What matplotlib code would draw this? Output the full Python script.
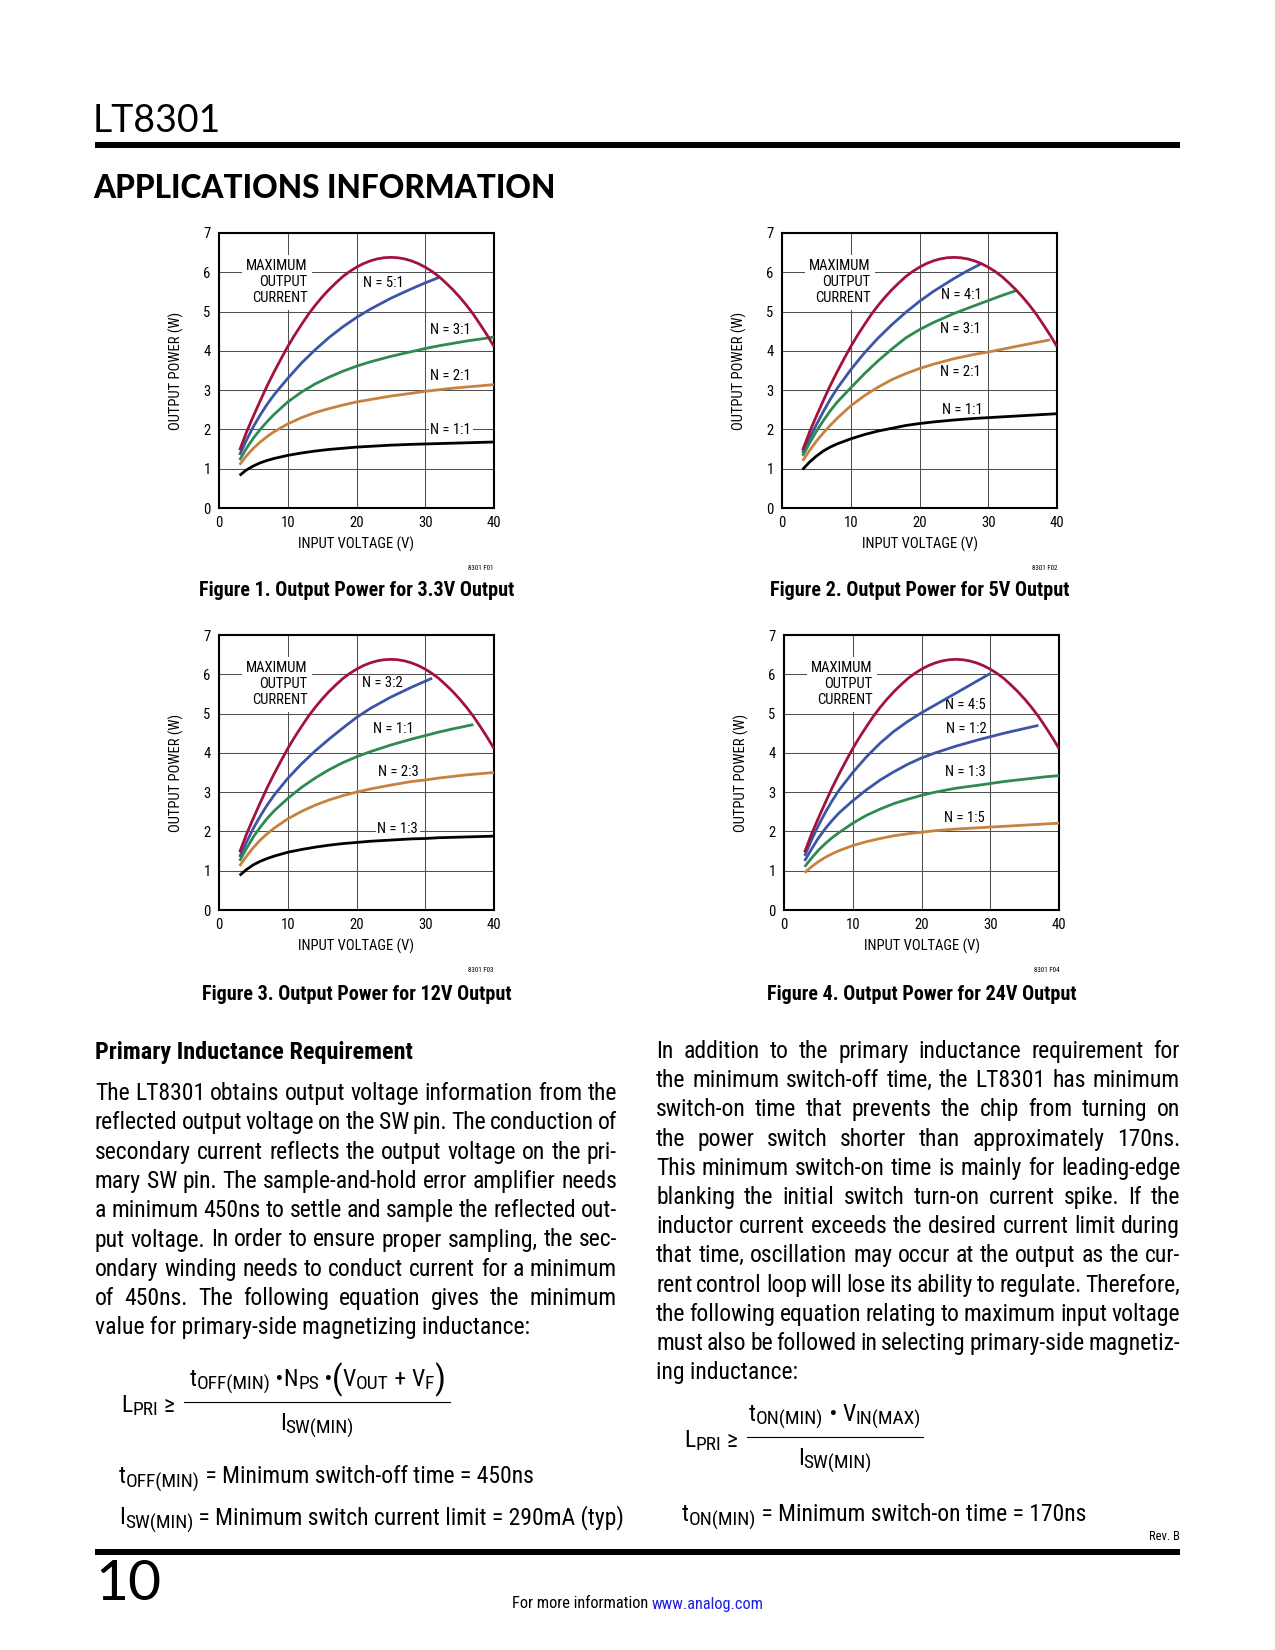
import matplotlib
matplotlib.use('Agg')
import matplotlib.pyplot as plt
from matplotlib import font_manager as fm
from matplotlib.lines import Line2D

W, H = 1275, 1650

names = {f.name for f in fm.fontManager.ttflist}
def pick(cands, default='DejaVu Sans'):
    for c in cands:
        if c in names:
            return c
    return default

NARROW = pick(['Liberation Sans Narrow', 'Arial Narrow', 'Roboto Condensed', 'Liberation Sans'])
GEO = pick(['Lato', 'Open Sans', 'Liberation Sans'])
FAM = [NARROW, 'Liberation Sans', 'DejaVu Sans']
plt.rcParams['font.family'] = FAM

# ---------------- data ----------------
X_TICKS = [0, 10, 20, 30, 40]
Y_TICKS = [0, 1, 2, 3, 4, 5, 6, 7]

# maximum output current boundary (same on every figure)
MAX_V = [3, 4, 5, 6, 7, 8, 9, 10, 11, 12, 13, 14, 15, 16, 17, 18, 19, 20, 21, 22,
         23, 24, 25, 26, 27, 28, 29, 30, 31, 32, 33, 34, 35, 36, 37, 38, 39, 40]
MAX_P = [1.47, 1.93, 2.34, 2.73, 3.11, 3.46, 3.79, 4.11, 4.40, 4.67, 4.93, 5.16, 5.37, 5.56,
         5.73, 5.89, 6.02, 6.13, 6.22, 6.29, 6.34, 6.37, 6.38, 6.37, 6.34, 6.29, 6.22, 6.13,
         6.02, 5.89, 5.73, 5.56, 5.37, 5.16, 4.93, 4.67, 4.40, 4.11]

V_FULL = [3, 4, 5, 6, 7, 8, 10, 12, 14, 16, 18, 20, 22, 25, 28, 30, 32, 34, 36, 38, 40]

# Figure 1: 3.3V output
F1_N51_V = [3, 4, 5, 6, 7, 8, 10, 12, 14, 16, 18, 20, 22, 25, 28, 30, 32]
F1_N51_P = [1.35, 1.73, 2.07, 2.37, 2.64, 2.88, 3.30, 3.69, 4.03, 4.34, 4.61, 4.85, 5.06, 5.34, 5.58, 5.73, 5.87]
F1_N31_P = [1.22, 1.52, 1.78, 2.00, 2.20, 2.38, 2.70, 2.95, 3.16, 3.33, 3.48, 3.61, 3.72, 3.86, 3.98, 4.06, 4.13, 4.19, 4.25, 4.30, 4.35]
F1_N21_P = [1.10, 1.33, 1.52, 1.68, 1.82, 1.94, 2.14, 2.30, 2.43, 2.53, 2.62, 2.70, 2.76, 2.85, 2.92, 2.97, 3.01, 3.05, 3.08, 3.11, 3.14]
F1_N11_P = [0.83, 0.97, 1.07, 1.15, 1.21, 1.26, 1.34, 1.40, 1.45, 1.49, 1.52, 1.55, 1.57, 1.60, 1.62, 1.63, 1.64, 1.65, 1.66, 1.67, 1.68]

# Figure 2: 5V output
F2_N41_V = [3, 4, 5, 6, 7, 8, 10, 12, 14, 16, 18, 20, 22, 25, 27, 29]
F2_N41_P = [1.40, 1.77, 2.12, 2.45, 2.76, 3.04, 3.52, 3.95, 4.33, 4.67, 4.98, 5.26, 5.51, 5.84, 6.04, 6.22]
F2_N31_V = [3, 4, 5, 6, 7, 8, 10, 12, 14, 16, 18, 20, 22, 25, 28, 30, 32, 34]
F2_N31_P = [1.33, 1.65, 1.95, 2.22, 2.47, 2.69, 3.06, 3.42, 3.75, 4.05, 4.33, 4.54, 4.72, 4.95, 5.15, 5.28, 5.41, 5.53]
F2_N21_V = [3, 4, 5, 6, 7, 8, 10, 12, 14, 16, 18, 20, 22, 25, 28, 30, 32, 34, 36, 39]
F2_N21_P = [1.20, 1.46, 1.70, 1.91, 2.10, 2.28, 2.60, 2.86, 3.08, 3.27, 3.42, 3.55, 3.66, 3.80, 3.91, 3.97, 4.04, 4.11, 4.18, 4.28]
F2_N11_P = [0.98, 1.17, 1.32, 1.45, 1.55, 1.63, 1.76, 1.87, 1.96, 2.03, 2.10, 2.15, 2.19, 2.24, 2.28, 2.30, 2.32, 2.34, 2.36, 2.38, 2.40]

# Figure 3: 12V output
F3_N32_V = [3, 4, 5, 6, 7, 8, 10, 12, 14, 16, 18, 20, 22, 25, 28, 31]
F3_N32_P = [1.35, 1.73, 2.08, 2.39, 2.67, 2.92, 3.35, 3.72, 4.05, 4.35, 4.63, 4.90, 5.13, 5.42, 5.67, 5.90]
F3_N11_V = [3, 4, 5, 6, 7, 8, 10, 12, 14, 16, 18, 20, 22, 25, 28, 30, 32, 34, 37]
F3_N11_P = [1.25, 1.57, 1.86, 2.11, 2.33, 2.52, 2.84, 3.12, 3.36, 3.57, 3.75, 3.90, 4.03, 4.20, 4.35, 4.44, 4.53, 4.61, 4.72]
F3_N23_P = [1.12, 1.37, 1.59, 1.78, 1.94, 2.08, 2.32, 2.51, 2.67, 2.80, 2.91, 3.00, 3.08, 3.18, 3.27, 3.31, 3.36, 3.40, 3.44, 3.47, 3.50]
F3_N13_P = [0.88, 1.03, 1.15, 1.24, 1.31, 1.37, 1.47, 1.54, 1.60, 1.65, 1.69, 1.72, 1.75, 1.78, 1.81, 1.82, 1.84, 1.85, 1.86, 1.87, 1.88]

# Figure 4: 24V output
F4_N45_V = [3, 4, 5, 6, 7, 8, 10, 12, 14, 16, 18, 20, 22, 25, 28, 30]
F4_N45_P = [1.38, 1.78, 2.15, 2.48, 2.78, 3.05, 3.50, 3.90, 4.25, 4.55, 4.80, 5.02, 5.22, 5.52, 5.82, 6.02]
F4_N12_V = [3, 4, 5, 6, 7, 8, 10, 12, 14, 16, 18, 20, 22, 25, 28, 30, 32, 34, 37]
F4_N12_P = [1.25, 1.55, 1.83, 2.07, 2.28, 2.47, 2.78, 3.06, 3.31, 3.52, 3.71, 3.87, 4.00, 4.17, 4.32, 4.41, 4.50, 4.58, 4.70]
F4_N13_P = [1.10, 1.32, 1.52, 1.69, 1.84, 1.97, 2.21, 2.41, 2.57, 2.71, 2.82, 2.92, 3.00, 3.10, 3.17, 3.22, 3.27, 3.31, 3.35, 3.39, 3.42]
F4_N15_P = [0.95, 1.10, 1.23, 1.34, 1.43, 1.51, 1.64, 1.74, 1.82, 1.89, 1.94, 1.98, 2.02, 2.06, 2.09, 2.11, 2.13, 2.15, 2.17, 2.19, 2.21]

CAPTIONS = ['Figure 1. Output Power for 3.3V Output', 'Figure 2. Output Power for 5V Output',
            'Figure 3. Output Power for 12V Output', 'Figure 4. Output Power for 24V Output']
FIG_IDS = ['8301 F01', '8301 F02', '8301 F03', '8301 F04']

RED = '#A3123E'
BLUE = '#3C55A5'
GREEN = '#2F8A4E'
ORANGE = '#C6823E'
BLACK = '#000000'

# ---------------- figure ----------------
fig = plt.figure(figsize=(W / 100, H / 100), dpi=100)
renderer = fig.canvas.get_renderer()

def fx(x):
    return x / W

def fy(y):
    return 1 - y / H

def ptext(x, y, s, **kw):
    return fig.text(fx(x), fy(y), s, **kw)

def hrule(x0, x1, y, lw_px):
    fig.add_artist(Line2D([fx(x0), fx(x1)], [fy(y), fy(y)], lw=lw_px * 0.72,
                          color='black', transform=fig.transFigure, solid_capstyle='butt'))

charts = [
    dict(rect=(219, 233, 494, 508), capy=590, idy=568,
         curves=[(F1_N51_V, F1_N51_P, BLUE), (V_FULL, F1_N31_P, GREEN),
                 (V_FULL, F1_N21_P, ORANGE), (V_FULL, F1_N11_P, BLACK)],
         labels=[('N = 5:1', 23.9, 5.72), ('N = 3:1', 33.7, 4.54),
                 ('N = 2:1', 33.7, 3.37), ('N = 1:1', 33.7, 1.99)]),
    dict(rect=(782, 233, 1057, 508), capy=590, idy=568,
         curves=[(F2_N41_V, F2_N41_P, BLUE), (F2_N31_V, F2_N31_P, GREEN),
                 (F2_N21_V, F2_N21_P, ORANGE), (V_FULL, F2_N11_P, BLACK)],
         labels=[('N = 4:1', 26.1, 5.43), ('N = 3:1', 25.9, 4.55),
                 ('N = 2:1', 26.0, 3.45), ('N = 1:1', 26.3, 2.50)]),
    dict(rect=(219, 635, 494, 910), capy=994, idy=970,
         curves=[(F3_N32_V, F3_N32_P, BLUE), (F3_N11_V, F3_N11_P, GREEN),
                 (V_FULL, F3_N23_P, ORANGE), (V_FULL, F3_N13_P, BLACK)],
         labels=[('N = 3:2', 23.7, 5.77), ('N = 1:1', 25.3, 4.60),
                 ('N = 2:3', 26.1, 3.52), ('N = 1:3', 26.0, 2.07)]),
    dict(rect=(784, 635, 1059, 910), capy=994, idy=970,
         curves=[(F4_N45_V, F4_N45_P, BLUE), (F4_N12_V, F4_N12_P, BLUE),
                 (V_FULL, F4_N13_P, GREEN), (V_FULL, F4_N15_P, ORANGE)],
         labels=[('N = 4:5', 26.4, 5.22), ('N = 1:2', 26.5, 4.60),
                 ('N = 1:3', 26.4, 3.52), ('N = 1:5', 26.2, 2.33)]),
]

for i, c in enumerate(charts):
    x0, y0, x1, y1 = c['rect']
    ax = fig.add_axes([fx(x0), fy(y1), (x1 - x0) / W, (y1 - y0) / H])
    ax.set_xlim(0, 40)
    ax.set_ylim(0, 7)
    ax.set_xticks(X_TICKS)
    ax.set_yticks(Y_TICKS)
    ax.set_axisbelow(True)
    ax.grid(True, color='#505050', lw=0.75)
    ax.tick_params(length=0, labelsize=10.5, pad=6)
    for sp in ax.spines.values():
        sp.set_linewidth(1.5)
    ax.set_xlabel('INPUT VOLTAGE (V)', fontsize=10.5)
    ax.set_ylabel('OUTPUT POWER (W)', fontsize=10.5)
    ax.xaxis.set_label_coords(0.5, -0.105)
    ax.yaxis.set_label_coords(-0.128, 0.5)
    ax.plot(MAX_V, MAX_P, color=RED, lw=2.0, solid_capstyle='butt', zorder=4)
    for v, p, col in c['curves']:
        ax.plot(v, p, color=col, lw=2.0, solid_capstyle='butt', zorder=3)
    ax.text(12.85, 5.75, 'MAXIMUM\nOUTPUT\nCURRENT', ha='right', va='center',
            multialignment='right', fontsize=10.5, linespacing=1.2, zorder=2.5,
            bbox=dict(fc='white', ec='none', pad=3))
    for s, lx, ly in c['labels']:
        ax.text(lx, ly, s, ha='center', va='center', fontsize=10.5, zorder=2.5,
                bbox=dict(fc='white', ec='none', pad=1.2))
    ptext(x1, c['idy'], FIG_IDS[i], ha='right', va='center', fontsize=5)
    ptext((x0 + x1) / 2, c['capy'], CAPTIONS[i], ha='center', va='center',
          fontsize=14.5, fontweight='bold')

# ---------------- page furniture ----------------
ptext(93, 121, 'LT8301', family=[GEO, 'DejaVu Sans'], fontweight='normal', fontsize=27,
      ha='left', va='center')
hrule(95, 1180, 144.5, 6)
ptext(93, 188, 'APPLICATIONS INFORMATION', family=[GEO, 'DejaVu Sans'], fontweight='black',
      fontsize=22.7, ha='left', va='center')

hrule(95, 1180, 1552, 6)
ptext(95, 1585, '10', family=[GEO, 'DejaVu Sans'], fontweight='normal', fontsize=41,
      ha='left', va='center')
ptext(1180, 1537, 'Rev. B', ha='right', va='center', fontsize=9)
t1 = ptext(0, 1604, 'For more information ', ha='left', va='center', fontsize=11.8)
t2 = ptext(0, 1604, 'www.analog.com', ha='left', va='center', fontsize=11.8, color='#1F1FE0')
w1 = t1.get_window_extent(renderer).width
w2 = t2.get_window_extent(renderer).width
sx = 638 - (w1 + w2) / 2
t1.set_x(fx(sx))
t2.set_x(fx(sx + w1))

# ---------------- body text ----------------
BODY = 17

def justified(lines, x0, x1, y_base, dy, size):
    for i, line in enumerate(lines):
        y = y_base + i * dy
        last = (i == len(lines) - 1)
        if last:
            ptext(x0, y, line, ha='left', va='baseline', fontsize=size)
            continue
        words = line.split(' ')
        ts = [ptext(x0, y, w, ha='left', va='baseline', fontsize=size) for w in words]
        widths = [t.get_window_extent(renderer).width for t in ts]
        gap = (x1 - x0 - sum(widths)) / max(len(words) - 1, 1)
        x = x0
        for t, w in zip(ts, widths):
            t.set_x(fx(x))
            x += w + gap

LEFT_LINES = [
    'The LT8301 obtains output voltage information from the',
    'reflected output voltage on the SW pin. The conduction of',
    'secondary current reflects the output voltage on the pri-',
    'mary SW pin. The sample-and-hold error amplifier needs',
    'a minimum 450ns to settle and sample the reflected out-',
    'put voltage. In order to ensure proper sampling, the sec-',
    'ondary winding needs to conduct current for a minimum',
    'of 450ns. The following equation gives the minimum',
    'value for primary-side magnetizing inductance:',
]
RIGHT_LINES = [
    'In addition to the primary inductance requirement for',
    'the minimum switch-off time, the LT8301 has minimum',
    'switch-on time that prevents the chip from turning on',
    'the power switch shorter than approximately 170ns.',
    'This minimum switch-on time is mainly for leading-edge',
    'blanking the initial switch turn-on current spike. If the',
    'inductor current exceeds the desired current limit during',
    'that time, oscillation may occur at the output as the cur-',
    'rent control loop will lose its ability to regulate. Therefore,',
    'the following equation relating to maximum input voltage',
    'must also be followed in selecting primary-side magnetiz-',
    'ing inductance:',
]

ptext(95, 1059, 'Primary Inductance Requirement', ha='left', va='baseline',
      fontsize=17.5, fontweight='bold')
justified(LEFT_LINES, 95, 617, 1100, 29.3, BODY)
justified(RIGHT_LINES, 656, 1180, 1058, 29.2, BODY)

# rich text with subscripts: kinds n = normal, s = subscript, b = big parenthesis
def rich(x, y, segs, size, ha='left', drop=0.2, sub=0.82):
    px = size * 100 / 72
    items = []
    for s, k in segs:
        if k == 's':
            t = ptext(0, y + drop * px, s, fontsize=size * sub, ha='left', va='baseline')
        elif k == 'b':
            t = ptext(0, y + 0.12 * px, s, fontsize=size * 1.45, ha='left', va='baseline')
        else:
            t = ptext(0, y, s, fontsize=size, ha='left', va='baseline')
        items.append((t, t.get_window_extent(renderer).width))
    total = sum(w for _, w in items)
    if ha == 'center':
        x = x - total / 2
    elif ha == 'right':
        x = x - total
    for t, w in items:
        t.set_x(fx(x))
        x += w
    return total

EQ = 17

def fraction(xl, xa, xb, yline, num, den):
    rich(xl, yline + 10, [('L', 'n'), ('PRI', 's'), (' ', 'n'), ('≥', 'n')], EQ, drop=0.14)
    rich((xa + xb) / 2, yline - 16, num, EQ, ha='center', drop=0.14)
    rich((xa + xb) / 2, yline + 28, den, EQ, ha='center', drop=0.14)
    fig.add_artist(Line2D([fx(xa), fx(xb)], [fy(yline), fy(yline)], lw=0.8,
                          color='black', transform=fig.transFigure))

NUM1 = [('t', 'n'), ('OFF(MIN)', 's'), (' •', 'n'), ('N', 'n'), ('PS', 's'), (' •', 'n'),
        ('(', 'b'), ('V', 'n'), ('OUT', 's'), (' + ', 'n'), ('V', 'n'), ('F', 's'), (')', 'b')]
DEN = [('I', 'n'), ('SW(MIN)', 's')]
NUM2 = [('t', 'n'), ('ON(MIN)', 's'), (' • ', 'n'), ('V', 'n'), ('IN(MAX)', 's')]

fraction(121, 184, 450, 1402, NUM1, DEN)
rich(119, 1483, [('t', 'n'), ('OFF(MIN)', 's'), (' = Minimum switch-off time = 450ns', 'n')], BODY)
rich(119, 1524, [('I', 'n'), ('SW(MIN)', 's'), (' = Minimum switch current limit = 290mA (typ)', 'n')], BODY)

fraction(684, 747, 923, 1437, NUM2, DEN)
rich(682, 1521, [('t', 'n'), ('ON(MIN)', 's'), (' = Minimum switch-on time = 170ns', 'n')], BODY)

fig.savefig('out.png', dpi=100, facecolor='white')
